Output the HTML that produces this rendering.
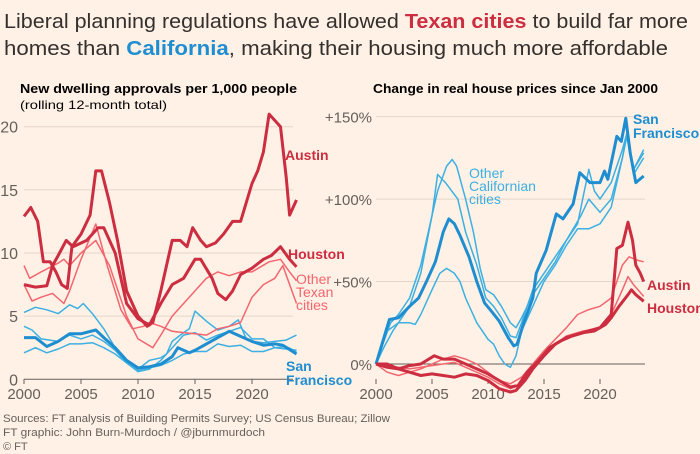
<!DOCTYPE html>
<html><head><meta charset="utf-8"><style>
body{margin:0;background:#FFF1E5;width:700px;height:454px;overflow:hidden;font-family:"Liberation Sans",sans-serif}
svg{position:absolute;left:0;top:0}
</style></head><body>
<svg id="c" width="700" height="454">
<text x="4" y="28" font-size="20" fill="#33302e" textLength="684" lengthAdjust="spacingAndGlyphs">Liberal planning regulations have allowed <tspan fill="#cc2d40" font-weight="bold">Texan cities</tspan> to build far more</text>
<text x="4" y="55" font-size="20" fill="#33302e" textLength="664" lengthAdjust="spacingAndGlyphs">homes than <tspan fill="#1f8ed1" font-weight="bold">California</tspan>, making their housing much more affordable</text>
<text x="20" y="93" font-size="13" font-weight="bold" fill="#000" textLength="277" lengthAdjust="spacingAndGlyphs">New dwelling approvals per 1,000 people</text>
<text x="20" y="109" font-size="12" fill="#000" textLength="147" lengthAdjust="spacingAndGlyphs">(rolling 12-month total)</text>
<text x="373" y="93" font-size="13" font-weight="bold" fill="#000" textLength="285" lengthAdjust="spacingAndGlyphs">Change in real house prices since Jan 2000</text>
<text x="3" y="422" font-size="11" fill="#66605c" textLength="387" lengthAdjust="spacingAndGlyphs">Sources: FT analysis of Building Permits Survey; US Census Bureau; Zillow</text>
<text x="3" y="436" font-size="11" fill="#66605c" textLength="262" lengthAdjust="spacingAndGlyphs">FT graphic: John Burn-Murdoch / @jburnmurdoch</text>
<text x="3" y="450" font-size="11" fill="#66605c">© FT</text>
<g id="L"></g><g id="R"></g>
</svg>
<script>
// ---- Left chart data (approvals per 1,000) ----
const austinYears=[2000,2000.6,2001.2,2001.7,2002.3,2002.8,2003.3,2003.8,2004.2,2005,2005.8,2006.3,2006.8,2007.5,2008.2,2009,2010,2010.8,2011.3,2012,2013,2013.7,2014.3,2014.8,2015.5,2016,2016.8,2017.5,2018.3,2019,2020,2020.5,2021,2021.5,2022,2022.5,2023,2023.3,2023.9];
const austinVals=[12.9,13.6,12.5,9.3,9.3,8.5,7.5,7.2,10.5,11.5,13,16.5,16.5,14,11,7,5,4.2,4.5,7,11,11,10.5,12,11,10.5,10.8,11.5,12.5,12.5,15.5,16.5,18,21,20.5,20,16,13,14.2];
const houstonYears=[2000,2001,2002,2002.5,2003,2003.7,2004.3,2005.5,2006.5,2007,2008,2009,2010,2011,2012,2013,2014,2015,2015.5,2016.5,2017,2017.7,2018.3,2019,2020,2021,2021.7,2022.5,2023.3,2023.9];
const houstonVals=[7.5,7.3,7.4,9,9.8,11,10.5,11,12,12,10,6,4.8,4.3,6,7.5,8,9.5,9.5,8,6.8,6.3,7,8.3,8.8,9.5,9.8,10.5,9.5,8.9];
const txAYears=[2000,2000.5,2001.5,2003,2003.5,2004,2005,2006.3,2007.5,2009,2010,2011.3,2012,2013,2014,2015,2016,2017,2018,2019,2020,2021.5,2022.5,2023.3,2023.9];
const txAVals=[9,8,8.5,9.2,9.5,9,10,11,9,5,3.2,2.5,3.5,5,6,7,8,8.5,8.2,8.5,8.5,9.3,9.5,8.5,7.8];
const txBYears=[2000,2000.7,2001.5,2002.5,2003.5,2004,2005,2006.3,2007.3,2008.5,2009.5,2010.5,2011,2012,2013,2014,2015,2016,2017,2018,2019,2020,2021,2022,2022.7,2023.5,2023.9];
const txBVals=[7.5,6.2,6.5,6.8,6,7,9.5,12.3,9,5.5,4,4.2,4.5,4.2,3.8,3.7,3.6,3.5,4,4.2,4.5,6.5,7.5,8,9,7,6];
const sfYears=[2000,2001,2002,2003,2004,2005,2006.3,2007,2008,2009,2010,2011,2012,2013,2013.5,2014.5,2015,2016,2017,2018,2019,2020,2021,2022,2022.7,2023.9];
const sfVals=[3.3,3.3,2.6,3,3.6,3.6,3.9,3.3,2.5,1.5,0.9,1,1.2,1.8,2.5,2.1,2.3,2.8,3.3,3.8,3.4,3,2.7,2.8,2.7,2];
const caAYears=[2000,2001,2002,2003,2004,2004.7,2005.2,2006,2007,2008,2009,2010,2011,2012,2012.5,2013,2014,2014.5,2015,2016,2017,2018,2018.8,2019.5,2020,2021,2022,2023,2023.9];
const caAVals=[5.3,5.7,5.5,5.2,5.9,5.6,6,5.2,4,2.5,1.5,0.8,1.5,1.7,2,3,3.7,4,5.4,4.6,3.9,4.2,4.7,3.2,3,2.9,3,3.1,3.5];
const caBYears=[2000,2000.7,2001.5,2003,2004,2005,2006,2007,2008,2009,2010,2011,2012,2013,2014,2015,2016,2017,2018,2019,2020,2021,2022,2023,2023.9];
const caBVals=[4.2,3.9,3.2,3,3.5,3.2,3.5,3,2.3,1.3,0.6,0.8,1.5,2.5,3.5,3.7,3.1,3.5,3.8,4.1,3.2,3.2,2.5,2.4,2.3];
const caCYears=[2000,2001,2002,2003,2004,2005,2006,2007,2008,2009,2010,2011,2012,2013,2014,2015,2016,2017,2018,2019,2020,2021,2022,2023,2023.9];
const caCVals=[2.1,2.5,2.1,2.4,2.8,2.8,2.9,2.5,2,1.3,0.7,0.9,1.1,1.5,2,2.2,2.2,2.8,2.6,2.7,2.2,2.2,2.5,2.6,2.2];
const leftTicks=[0,5,10,15,20];
const xTicks=[2000,2005,2010,2015,2020];
// ---- Right chart data (% change in real prices) ----
const rSfYears=[2000,2001.2,2002,2003,2003.8,2004.5,2005.3,2006,2006.5,2007,2007.5,2008.3,2009,2009.7,2010.3,2011,2011.8,2012.3,2012.6,2013.2,2014,2014.3,2015.2,2016.1,2016.7,2017.6,2018.2,2019.1,2020,2020.4,2020.7,2021.5,2021.9,2022.3,2022.7,2023.2,2023.9];
const rSfVals=[0,27,28,35,40,50,62,80,88,85,78,65,50,37,32,26,16,11,12,25,40,55,69,91,88,97,116,110,110,117,112,138,135,149,128,110,114];
const rCaAYears=[2000,2000.5,2001.3,2002,2003,2004,2005,2005.5,2006.3,2006.8,2007.2,2008,2008.7,2009.3,2009.8,2010.5,2011.2,2012,2012.5,2013,2014,2015,2016,2017,2018,2019,2019.5,2020,2021,2022,2022.4,2023,2023.9];
const rCaAVals=[0,10,25,30,40,60,90,105,120,124,120,100,80,58,45,42,35,25,22,28,42,52,62,75,85,118,105,100,110,130,140,118,128];
const rCaBYears=[2000,2001,2002,2003,2004,2005,2005.5,2006.2,2007.3,2008,2009,2009.8,2010.5,2011.2,2012,2012.5,2013,2014,2015,2016,2017,2018.3,2019,2020,2021,2022,2022.4,2023,2023.9];
const rCaBVals=[0,20,25,35,55,90,115,110,100,80,60,40,35,28,17,16,25,45,55,65,75,90,100,92,100,125,138,115,125];
const rCaCYears=[2000,2000.7,2001.5,2002,2003,2003.5,2004,2005,2005.7,2006.3,2007,2007.5,2008,2009,2010,2010.5,2011,2011.5,2012,2012.5,2013,2014,2015,2016,2017,2018,2019,2020,2021,2022,2022.4,2023,2023.9];
const rCaCVals=[0,10,20,25,25,24,30,45,55,58,55,50,40,25,15,12,5,0,-2,5,20,35,50,60,72,82,82,85,95,125,140,118,130];
const rAusYears=[2000,2001,2002,2003,2004,2005,2006,2007,2008,2009,2010,2011,2012,2012.5,2013.3,2014,2015,2016,2017,2018,2019,2020,2021,2021.5,2022,2022.5,2022.9,2023.2,2023.6,2023.9];
const rAusVals=[0,-2,-3,-5,-7,-6,-7,-8,-6,-7,-10,-15,-17,-16,-10,-3,5,12,16,18,20,22,30,70,72,86,75,60,55,50];
const rHouYears=[2000,2001,2002,2003,2004,2005.2,2006,2007,2008,2009,2010,2011,2012,2012.7,2013.5,2014.5,2015.5,2016.5,2017.5,2018.5,2019.5,2020.5,2021,2021.7,2022.5,2022.8,2023.2,2023.9];
const rHouVals=[0,0,-3,-1,0,5,3,3,0,-3,-6,-10,-14,-13,-5,2,10,14,17,19,20,24,28,35,42,45,42,38];
const rTxAYears=[2000,2001,2002,2003,2004,2005,2006,2007,2008,2009,2010,2011,2012,2013,2014,2015,2016,2017,2018,2019,2020,2021,2022,2022.6,2023.3,2023.9];
const rTxAVals=[0,-5,-7,-5,-3,0,3,5,3,0,-5,-10,-12,-8,0,8,15,22,30,33,35,40,60,65,63,62];
const rTxBYears=[2000,2001,2002,2003,2004,2005,2006,2007,2008,2009,2010,2011,2012,2012.7,2013.5,2014.8,2016,2017,2018.5,2020,2021,2022,2022.5,2023,2023.9];
const rTxBVals=[0,-1,-2,-3,-2,-1,0,1,-2,-5,-8,-12,-15,-13,-5,5,12,17,20,22,30,45,53,48,41];
const rightTicks=[0,50,100,150];

const NS="http://www.w3.org/2000/svg";
const DR="#cc2d40",LR="#f4656f",DB="#1f8ed1",LB="#3cb0e2";
const lx=y=>24+(y-2000)*11.4, ly=v=>379.3-v*12.63;
const rx=y=>376+(y-2000)*11.2, ry=v=>364-v*1.649;
function mk(g,tag,attrs){const e=document.createElementNS(NS,tag);for(const k in attrs)e.setAttribute(k,attrs[k]);g.appendChild(e);return e;}
function line(g,xs,ys,sx,sy,col,w,name){
  const d=xs.map((x,i)=>(i?"L":"M")+sx(x).toFixed(1)+","+sy(ys[i]).toFixed(1)).join("");
  const p=mk(g,"path",{d:d,fill:"none",stroke:col,"stroke-width":w,"stroke-linejoin":"round"});
  
  
}
function txt(g,x,y,s,attrs,name){const t=mk(g,"text",Object.assign({x:x,y:y},attrs));t.textContent=s;
  
  return t;}
const L=document.getElementById("L"),R=document.getElementById("R");
leftTicks.forEach(v=>{
  const gl=mk(L,"line",{x1:24,x2:293,y1:ly(v),y2:ly(v),stroke:v?"#e2d6cc":"#66605c","stroke-width":1});
  
  
  txt(L,18,ly(v)+6,String(v),{"font-size":16,fill:"#66605c","text-anchor":"end"},'left-y-tick-label');
});
xTicks.forEach(y=>{
  const tk=mk(L,"line",{x1:lx(y),x2:lx(y),y1:379,y2:384,stroke:"#66605c"});
  
  
  txt(L,lx(y),399,String(y),{"font-size":15,fill:"#66605c","text-anchor":"middle"},'left-x-tick-label');
});
line(L,caCYears,caCVals,lx,ly,LB,1.5,'other-ca-approvals-c');
line(L,caBYears,caBVals,lx,ly,LB,1.5,'other-ca-approvals-b');
line(L,caAYears,caAVals,lx,ly,LB,1.5,'other-ca-approvals-a');
line(L,txBYears,txBVals,lx,ly,LR,1.5,'other-texan-approvals-b');
line(L,txAYears,txAVals,lx,ly,LR,1.5,'other-texan-approvals-a');
line(L,sfYears,sfVals,lx,ly,DB,3,'san-francisco-approvals');
line(L,houstonYears,houstonVals,lx,ly,DR,3,'houston-approvals');
line(L,austinYears,austinVals,lx,ly,DR,3,'austin-approvals');
const b={"font-size":14,"font-weight":"bold"};
txt(L,285,160,"Austin",Object.assign({fill:DR},b),'austin-label');
txt(L,288,259,"Houston",Object.assign({fill:DR},b),'houston-label');
txt(L,296,284,"Other",{"font-size":14,fill:LR},'other-texan-label-1');
txt(L,296,297,"Texan",{"font-size":14,fill:LR},'other-texan-label-2');
txt(L,296,310,"cities",{"font-size":14,fill:LR},'other-texan-label-3');
txt(L,286,371,"San",Object.assign({fill:DB},b),'sf-label-1');
txt(L,286,385,"Francisco",Object.assign({fill:DB},b),'sf-label-2');
rightTicks.forEach(v=>{
  const gl=mk(R,"line",{x1:376,x2:645,y1:ry(v),y2:ry(v),stroke:v?"#e2d6cc":"#66605c","stroke-width":1});
  
  
  txt(R,372,ry(v)+6,(v?"+":"")+v+"%",{"font-size":15,fill:"#66605c","text-anchor":"end"},'right-y-tick-label');
});
xTicks.forEach(y=>{
  const tk=mk(R,"line",{x1:rx(y),x2:rx(y),y1:379,y2:384,stroke:"#66605c"});
  
  
  txt(R,rx(y),399,String(y),{"font-size":15,fill:"#66605c","text-anchor":"middle"},'right-x-tick-label');
});
line(R,rCaCYears,rCaCVals,rx,ry,LB,1.5,'other-ca-prices-c');
line(R,rCaBYears,rCaBVals,rx,ry,LB,1.5,'other-ca-prices-b');
line(R,rCaAYears,rCaAVals,rx,ry,LB,1.5,'other-ca-prices-a');
line(R,rTxAYears,rTxAVals,rx,ry,LR,1.5,'other-texan-prices-a');
line(R,rTxBYears,rTxBVals,rx,ry,LR,1.5,'other-texan-prices-b');
line(R,rSfYears,rSfVals,rx,ry,DB,3,'san-francisco-prices');
line(R,rHouYears,rHouVals,rx,ry,DR,3,'houston-prices');
line(R,rAusYears,rAusVals,rx,ry,DR,3,'austin-prices');
txt(R,633,124,"San",Object.assign({fill:DB},b),'sf-price-label-1');
txt(R,633,138,"Francisco",Object.assign({fill:DB},b),'sf-price-label-2');
txt(R,469,178,"Other",{"font-size":14,fill:LB},'other-ca-label-1');
txt(R,469,191,"Californian",{"font-size":14,fill:LB},'other-ca-label-2');
txt(R,469,204,"cities",{"font-size":14,fill:LB},'other-ca-label-3');
txt(R,647,290,"Austin",Object.assign({fill:DR},b),'austin-price-label');
txt(R,647,313,"Houston",Object.assign({fill:DR},b),'houston-price-label');
</script>
</body></html>
